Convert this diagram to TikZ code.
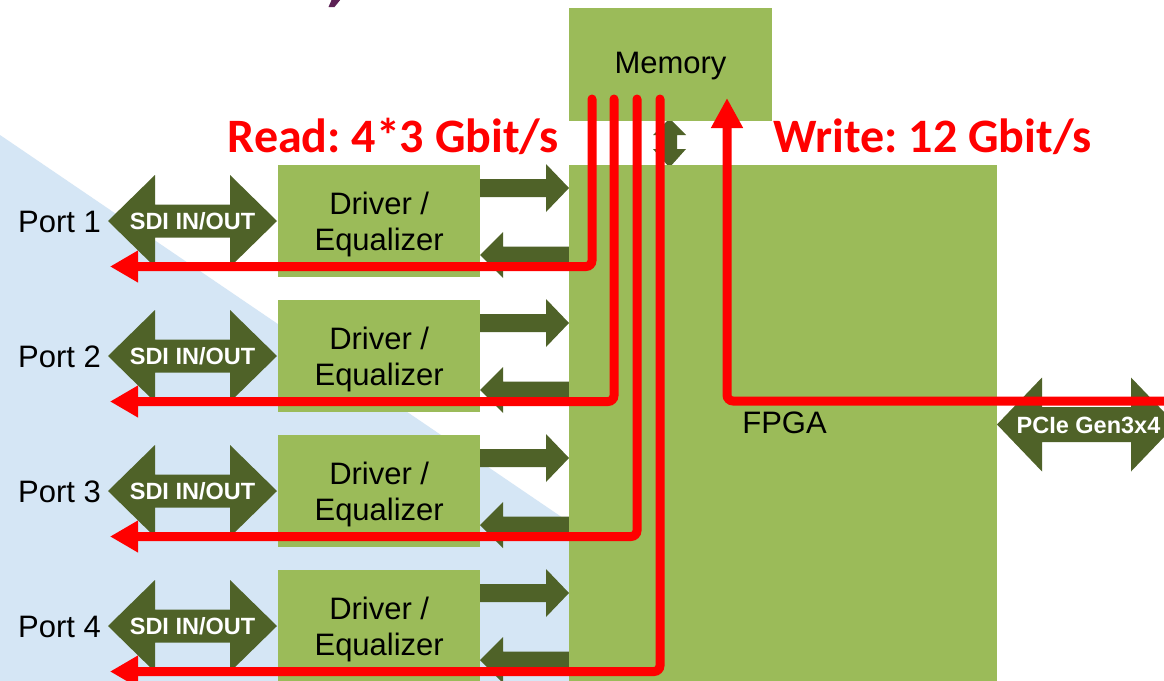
\documentclass[tikz,border=0pt]{standalone}
\usepackage{fontspec}
\setmainfont{Liberation Sans}
\newfontfamily\calibfont{Carlito}
\usetikzlibrary{arrows.meta}
\frenchspacing

\definecolor{boxgreen}{HTML}{9BBB59}
\definecolor{darkgreen}{HTML}{4F6228}
\definecolor{bgblue}{HTML}{D5E6F5}
\definecolor{titlepurple}{HTML}{5C2155}
\definecolor{flowred}{HTML}{FF0000}

% horizontal double block arrow: left tip, right tip, centre y, head length, head half-height, shaft half-height
\newcommand{\dblarrowH}[6]{%
  \fill[blockarrow] (#1,#3) -- (#1+#4,#3-#5) -- (#1+#4,#3-#6) -- (#2-#4,#3-#6)
    -- (#2-#4,#3-#5) -- (#2,#3) -- (#2-#4,#3+#5) -- (#2-#4,#3+#6)
    -- (#1+#4,#3+#6) -- (#1+#4,#3+#5) -- cycle;}
% block arrow pointing right: start x, tip x, centre y, head length, head half-height, shaft half-height
\newcommand{\arrowRight}[6]{%
  \fill[blockarrow] (#1,#3-#6) -- (#2-#4,#3-#6) -- (#2-#4,#3-#5) -- (#2,#3)
    -- (#2-#4,#3+#5) -- (#2-#4,#3+#6) -- (#1,#3+#6) -- cycle;}
% block arrow pointing left: start x, tip x, centre y, head length, head half-height, shaft half-height
\newcommand{\arrowLeft}[6]{%
  \fill[blockarrow] (#1,#3-#6) -- (#2+#4,#3-#6) -- (#2+#4,#3-#5) -- (#2,#3)
    -- (#2+#4,#3+#5) -- (#2+#4,#3+#6) -- (#1,#3+#6) -- cycle;}

\begin{document}
\begin{tikzpicture}[x=1pt,y=-1pt,
  blockarrow/.style={fill=darkgreen, draw=none},
  block/.style={fill=boxgreen, draw=none, inner sep=0pt,
    font=\fontsize{31}{36.5}\selectfont, align=center, text depth=0pt},
  plain/.style={font=\fontsize{31}{36.5}\selectfont, inner sep=0pt, text depth=0pt},
  badge/.style={text=white, font=\fontsize{23.5}{28}\selectfont\bfseries,
    inner sep=0pt, text depth=0pt},
  flow/.style={draw=flowred, line width=9pt, rounded corners=6pt, line cap=round},
  rate/.style={text=flowred, font=\fontsize{48}{56}\calibfont\bfseries,
    inner sep=0pt, anchor=base}]

\useasboundingbox (0,0) rectangle (1164,680);
\clip (0,0) rectangle (1164,680);
\fill[white] (0,0) rectangle (1164,680);

% light blue backdrop
\fill[bgblue] (0,135) -- (810,686) -- (0,686) -- cycle;

% tail of the slide heading
\fill[titlepurple] (332,-1) -- (341,-1) -- (334.5,7) -- (328.5,7) -- cycle;

% memory <-> FPGA link
\fill[blockarrow] (669.5,118.5) -- (686,135) -- (677,135) -- (677,149) -- (686,149)
  -- (669.5,167.5) -- (653,149) -- (662,149) -- (662,135) -- (653,135) -- cycle;

% driver <-> FPGA links
\foreach \i in {1,...,4} {
  \pgfmathsetmacro\T{165+135*(\i-1)}
  \arrowRight{480}{569}{\T+23}{23}{24}{9}
  \arrowLeft{575}{480}{\T+90}{23}{23}{8.5}
}

% main blocks
\node[block, minimum width=203pt, minimum height=113pt, anchor=north west] (mem) at (569,8) {};
\node[plain] (memlabel) at (670.5,63) {Memory};
\node[block, minimum width=428pt, minimum height=525pt, anchor=north west] (fpga) at (569,165) {};
\node[plain] (fpgalabel) at (784.5,423) {FPGA};

% ports
\foreach \i in {1,...,4} {
  \pgfmathsetmacro\T{165+135*(\i-1)}
  \node[block, minimum width=202pt, minimum height=112pt, anchor=north west]
    (drv\i) at (278,\T) {Driver /\\Equalizer};
  \dblarrowH{108}{277}{\T+56}{47}{46}{16.5}
  \node[badge] (sdi\i) at (192.5,\T+56) {SDI IN/OUT};
  \node[plain, anchor=east] (port\i) at (101,\T+56.5) {Port \i};
}

% host interface
\dblarrowH{997}{1176}{424.5}{45}{47}{17.5}
\node[badge] (pcie) at (1088.5,425) {PCIe Gen3x4};

% read paths: memory to each port
\foreach \i/\xr in {1/592, 2/614, 3/637, 4/660} {
  \pgfmathsetmacro\T{165+135*(\i-1)}
  \coordinate (rtop\i) at (\xr,99);
  \coordinate (rend\i) at (110,\T+101.5);
  \draw[flow, -{Triangle[length=28pt,width=30pt]}] (rtop\i) |- (rend\i);
}

% write path: host to memory
\coordinate (wstart) at (1172,401);
\coordinate (wtip) at (727,98);
\draw[flow, -{Triangle[length=30pt,width=30pt]}] (wstart) -| (wtip);

% rates
\node[rate] (readrate) at (393,152) {Read: 4*3 Gbit/s};
\node[rate] (writerate) at (932.5,152) {Write: 12 Gbit/s};
\end{tikzpicture}
\end{document}
